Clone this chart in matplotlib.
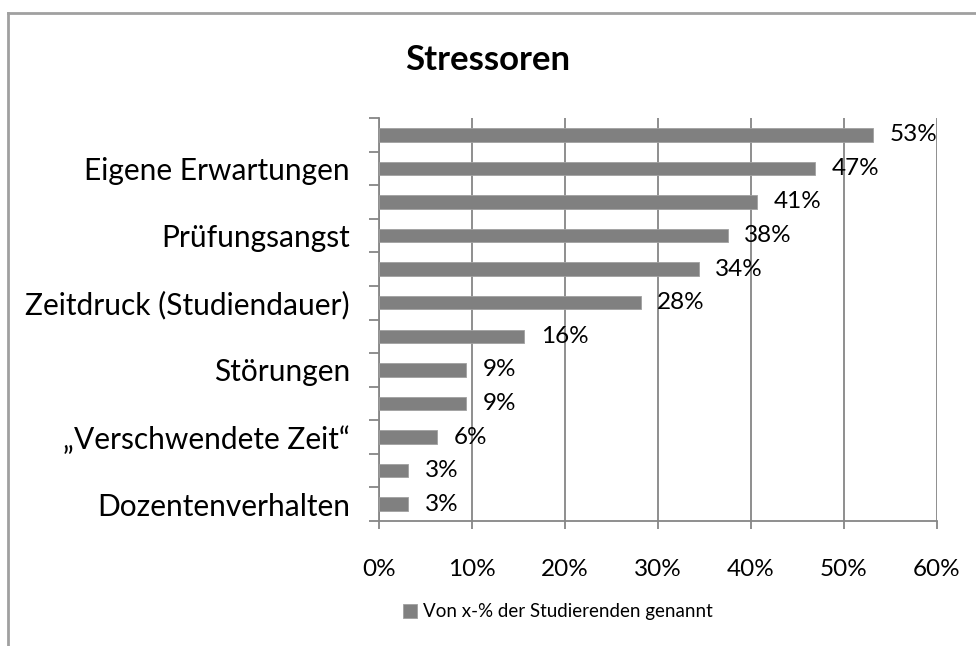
import numpy as np
import matplotlib.pyplot as plt
from matplotlib.lines import Line2D

plt.rcParams['font.family'] = ['Lato', 'DejaVu Sans']

# Daten (von oben nach unten)
kategorien = ["", "Eigene Erwartungen", "", "Prüfungsangst", "",
              "Zeitdruck (Studiendauer)", "", "Störungen", "",
              "„Verschwendete Zeit“", "", "Dozentenverhalten"]
werte = [0.5313, 0.4688, 0.4063, 0.375, 0.3438, 0.2813,
         0.1563, 0.0938, 0.0938, 0.0625, 0.0313, 0.0313]
beschriftung = ["53%", "47%", "41%", "38%", "34%", "28%",
                "16%", "9%", "9%", "6%", "3%", "3%"]
x_ticks = [0, 0.1, 0.2, 0.3, 0.4, 0.5, 0.6]
x_labels = ["0%", "10%", "20%", "30%", "40%", "50%", "60%"]

grau = "#808080"
linie = "#868686"

fig = plt.figure(figsize=(9.76, 6.46), dpi=100)
ax = fig.add_axes([379/976, 1-521/646, (937-379)/976, (521-118)/646])

y = np.arange(len(werte))[::-1]
bars = ax.barh(y, werte, height=0.4, color=grau, edgecolor="#a0a0a0",
               linewidth=0.6, label="Von x-% der Studierenden genannt", zorder=3)
ax.bar_label(bars, labels=beschriftung, padding=12, fontsize=17.5, zorder=4)

ax.set_xlim(0, 0.6)
ax.set_ylim(-0.5, len(werte) - 0.5)
ax.set_xticks(x_ticks)
ax.set_xticklabels(x_labels, fontsize=17.5)
ax.set_yticks(y)
ax.set_yticklabels(kategorien, fontsize=21.5)
ax.set_yticks(np.arange(-0.5, len(werte), 1), minor=True)
ax.tick_params(axis="y", which="major", length=0, pad=21)
ax.tick_params(axis="y", which="minor", length=7, color=linie, width=1.3)
ax.tick_params(axis="x", length=6, color=linie, width=1.3, pad=21)

ax.grid(axis="x", color=linie, linewidth=1.3, zorder=0)
for s in ["top", "right"]:
    ax.spines[s].set_visible(False)
for s in ["left", "bottom"]:
    ax.spines[s].set_color(linie)
    ax.spines[s].set_linewidth(1.3)

fig.text(488/976, 1-60/646, "Stressoren", ha="center", va="center",
         fontsize=25, fontweight="bold")

ax.legend(loc="center", bbox_to_anchor=(558/976, 1-612/646),
          bbox_transform=fig.transFigure, frameon=False, fontsize=13.5,
          handlelength=0.75, handleheight=0.75, handletextpad=0.3)

# Rahmen (oben und links)
fig.add_artist(Line2D([8/976, 1], [1-13/646, 1-13/646], color="#a0a0a0", linewidth=2))
fig.add_artist(Line2D([8/976, 8/976], [0, 1-13/646], color="#a0a0a0", linewidth=2))

fig.savefig("out.png", dpi=100)
